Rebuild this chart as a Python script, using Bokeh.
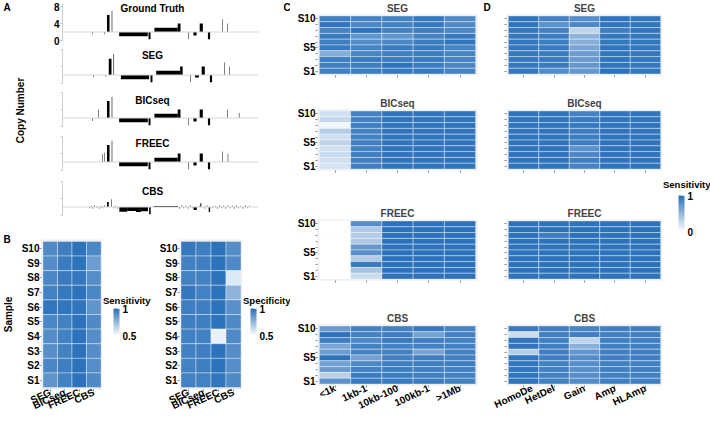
import math
from bokeh.plotting import figure
from bokeh.layouts import row, column
from bokeh.models import (ColumnDataSource, LinearColorMapper, ColorBar, Label,
                          Range1d, FixedTicker, Span)
from bokeh.embed import file_html
from bokeh.resources import INLINE

FONT = "Liberation Sans"

# ---------------- data ----------------
samples_top_down = ["S10", "S9", "S8", "S7", "S6", "S5", "S4", "S3", "S2", "S1"]
methods = ["SEG", "BICseq", "FREEC", "CBS"]
size_bins = ["<1k", "1kb-1", "10kb-100", "100kb-1", ">1Mb"]
cnv_types = ["HomoDe", "HetDel", "Gain", "Amp", "HLAmp"]
cn_ticks = [0, 4, 8]

# Panel A: segments (genome position 0-100, copy number)
gt_start = [15.2, 21.4, 22.7, 25.1, 28.9, 43.9, 46.9, 58.8, 64.3, 66.8, 70.0, 74.2, 81.5, 84.0]
gt_end   = [15.45, 21.65, 24.0, 25.4, 43.5, 44.9, 58.8, 60.2, 64.55, 68.4, 71.6, 75.3, 81.75, 84.25]
gt_cn    = [1.5, 1.5, 6.0, 7.0, 1.0, 0.3, 3.0, 4.0, 0.3, 1.2, 4.0, 0.3, 5.0, 4.0]

seg_start = [15.8, 22.0, 23.6, 26.0, 29.8, 44.9, 47.8, 60.0, 65.3, 67.6, 71.0, 75.2, 82.5, 85.2]
seg_end   = [16.05, 22.25, 25.0, 26.3, 44.2, 45.9, 60.0, 61.3, 65.55, 69.6, 72.6, 76.3, 82.75, 85.45]
seg_cn    = [1.5, 1.6, 5.8, 7.0, 1.0, 0.3, 3.0, 4.0, 0.3, 1.4, 4.0, 0.3, 5.0, 4.0]

bic_start = [15.2, 18.3, 22.7, 25.1, 28.9, 43.9, 46.9, 58.8, 64.3, 66.8, 70.0, 74.2, 84.0, 90.0]
bic_end   = [15.45, 18.55, 24.0, 25.4, 43.5, 44.9, 58.8, 60.2, 64.55, 68.4, 71.6, 75.3, 84.25, 90.25]
bic_cn    = [1.3, 4.0, 6.0, 7.0, 1.0, 0.3, 3.0, 4.0, 0.3, 1.2, 4.0, 0.3, 4.0, 3.2]

freec_start = [20.4, 21.2, 22.7, 25.1, 28.9, 43.9, 46.9, 58.8, 64.3, 66.8, 70.0, 74.2, 81.5, 84.3]
freec_end   = [20.65, 21.45, 24.0, 25.4, 43.5, 44.9, 58.8, 60.2, 64.55, 68.4, 71.6, 75.3, 81.75, 84.55]
freec_cn    = [3.8, 4.2, 6.0, 7.0, 1.0, 0.3, 3.0, 4.0, 0.3, 1.2, 4.0, 0.3, 4.5, 4.0]

cbs_start = [13.8, 14.6, 15.4, 16.3, 17.1, 17.9, 18.8, 19.6, 20.5, 21.3, 22.7, 24.9, 26.2, 27.0, 27.9,
             29.0, 33.0, 37.5, 40.0, 44.2, 46.5,
             59.6, 60.7, 61.8, 62.9, 64.0, 65.1, 66.2, 66.9, 69.5, 70.3, 72.5, 73.6, 74.6, 76.6, 77.7,
             78.8, 79.9, 81.0, 82.1, 83.2, 84.3, 85.4, 86.5, 87.6, 88.7, 89.8, 90.9, 92.0, 93.1, 94.2, 95.3]
cbs_end   = [14.05, 14.85, 15.65, 16.55, 17.35, 18.15, 19.05, 19.85, 20.75, 21.55, 23.6, 25.15, 26.45, 27.25, 28.15,
             33.0, 37.5, 40.0, 43.6, 45.0, 59.0,
             59.85, 60.95, 62.05, 63.15, 64.25, 65.35, 66.45, 68.5, 69.75, 70.8, 72.75, 73.85, 75.3, 76.85, 77.95,
             79.05, 80.15, 81.25, 82.35, 83.45, 84.55, 85.65, 86.75, 87.85, 88.95, 90.05, 91.15, 92.25, 93.35, 94.45, 95.55]
cbs_cn    = [1.7, 2.3, 1.6, 2.4, 1.8, 2.2, 1.6, 2.3, 1.7, 2.4, 3.2, 3.8, 1.7, 2.3, 1.6,
             0.9, 1.05, 0.85, 1.0, 0.3, 2.25,
             1.6, 2.4, 1.7, 2.3, 1.6, 2.4, 1.7, 1.3, 2.3, 2.9, 1.6, 2.4, 0.8, 1.7, 2.3,
             1.6, 2.4, 1.7, 2.3, 1.6, 2.4, 1.7, 2.3, 1.6, 2.4, 1.7, 2.3, 1.6, 2.4, 1.7, 2.3]

# Panel B (rows S10 -> S1; columns SEG, BICseq, FREEC, CBS)
b_sensitivity = [
    [0.91, 0.95, 0.99, 0.92],
    [0.90, 0.96, 0.99, 0.84],
    [0.92, 0.96, 0.97, 0.90],
    [0.94, 0.97, 0.99, 0.92],
    [0.98, 0.98, 0.98, 0.87],
    [0.92, 0.94, 0.99, 0.91],
    [0.90, 0.94, 0.99, 0.90],
    [0.89, 0.94, 0.99, 0.90],
    [0.92, 0.95, 0.99, 0.90],
    [0.87, 0.94, 0.99, 0.91],
]
b_specificity = [
    [0.97, 0.95, 0.99, 0.90],
    [0.94, 0.95, 0.99, 0.91],
    [0.94, 0.94, 0.99, 0.58],
    [0.97, 0.94, 0.99, 0.76],
    [0.95, 0.95, 0.99, 0.89],
    [0.95, 0.95, 0.99, 0.91],
    [0.94, 0.94, 0.55, 0.91],
    [0.94, 0.95, 0.99, 0.90],
    [0.94, 0.95, 0.99, 0.90],
    [0.94, 0.94, 0.98, 0.91],
]

# Panel C: sensitivity by event size (rows S10 -> S1)
c_seg = [
    [0.90, 0.87, 0.88, 0.94, 0.82],
    [0.96, 0.84, 0.88, 0.93, 0.82],
    [0.87, 0.98, 0.88, 0.90, 0.84],
    [0.92, 0.74, 0.74, 0.87, 0.93],
    [0.90, 0.80, 0.84, 0.91, 0.96],
    [0.93, 0.87, 0.92, 0.93, 0.86],
    [0.58, 0.86, 0.90, 0.91, 0.86],
    [0.90, 0.93, 0.91, 0.93, 0.87],
    [0.90, 0.91, 0.98, 0.91, 0.84],
    [0.89, 0.91, 0.93, 0.93, 0.86],
]
c_bicseq = [
    [0.22, 0.88, 0.97, 0.97, 0.97],
    [0.28, 0.88, 0.97, 0.97, 0.97],
    [0.06, 0.90, 0.97, 0.97, 0.97],
    [0.35, 0.88, 0.97, 0.97, 0.97],
    [0.22, 0.88, 0.97, 0.97, 0.97],
    [0.30, 0.90, 0.97, 0.97, 0.97],
    [0.22, 0.88, 0.97, 0.97, 0.97],
    [0.25, 0.90, 0.97, 0.97, 0.97],
    [0.22, 0.90, 0.97, 0.97, 0.97],
    [0.20, 0.90, 0.97, 0.97, 0.97],
]
c_freec = [
    [0.0, 0.80, 0.99, 0.99, 0.99],
    [0.0, 0.38, 0.99, 0.99, 0.99],
    [0.0, 0.35, 0.99, 0.99, 0.99],
    [0.0, 0.38, 0.99, 0.99, 0.99],
    [0.0, 0.72, 0.99, 0.99, 0.99],
    [0.0, 0.78, 0.99, 0.99, 0.99],
    [0.0, 0.35, 0.99, 0.99, 0.99],
    [0.0, 0.92, 0.99, 0.99, 0.99],
    [0.0, 0.42, 0.99, 0.99, 0.99],
    [0.0, 0.25, 0.99, 0.99, 0.99],
]
c_cbs = [
    [0.70, 0.88, 0.88, 0.94, 0.86],
    [0.98, 0.88, 0.90, 0.66, 0.88],
    [0.90, 0.83, 0.93, 0.90, 0.88],
    [0.63, 0.88, 0.88, 0.88, 0.88],
    [0.68, 0.86, 0.88, 0.63, 0.88],
    [0.98, 0.66, 0.88, 0.90, 0.88],
    [0.66, 0.83, 0.90, 0.90, 0.90],
    [0.70, 0.88, 0.91, 0.90, 0.88],
    [0.33, 0.91, 0.91, 0.90, 0.88],
    [0.76, 0.93, 0.93, 0.91, 0.88],
]

# Panel D: sensitivity by event type (rows S10 -> S1)
d_seg = [
    [0.96, 0.88, 0.80, 0.97, 0.95],
    [0.96, 0.76, 0.83, 0.96, 0.95],
    [0.95, 0.88, 0.30, 0.90, 0.96],
    [0.94, 0.91, 0.52, 0.95, 0.95],
    [0.94, 0.91, 0.56, 0.95, 0.95],
    [0.94, 0.92, 0.63, 0.96, 0.95],
    [0.94, 0.92, 0.68, 0.96, 0.95],
    [0.94, 0.92, 0.70, 0.97, 0.95],
    [0.94, 0.92, 0.72, 0.97, 0.95],
    [0.94, 0.80, 0.72, 0.98, 0.95],
]
d_bicseq = [
    [0.97, 0.97, 0.88, 0.97, 0.97],
    [0.97, 0.97, 0.92, 0.97, 0.97],
    [0.97, 0.97, 0.93, 0.97, 0.97],
    [0.97, 0.97, 0.91, 0.97, 0.97],
    [0.97, 0.97, 0.91, 0.97, 0.97],
    [0.97, 0.97, 0.90, 0.97, 0.97],
    [0.97, 0.97, 0.76, 0.97, 0.97],
    [0.97, 0.97, 0.84, 0.97, 0.97],
    [0.97, 0.97, 0.90, 0.97, 0.97],
    [0.97, 0.97, 0.86, 0.97, 0.97],
]
d_freec = [
    [0.98, 0.98, 0.98, 0.98, 0.98],
    [0.98, 0.98, 0.98, 0.98, 0.98],
    [0.98, 0.91, 0.98, 0.98, 0.98],
    [0.98, 0.98, 0.98, 0.98, 0.98],
    [0.98, 0.98, 0.98, 0.98, 0.98],
    [0.98, 0.98, 0.98, 0.98, 0.98],
    [0.98, 0.98, 0.98, 0.98, 0.98],
    [0.98, 0.98, 0.98, 0.98, 0.98],
    [0.98, 0.98, 0.98, 0.98, 0.98],
    [0.98, 0.98, 0.98, 0.98, 0.98],
]
d_cbs = [
    [0.92, 0.90, 0.86, 0.89, 0.89],
    [0.24, 0.90, 0.90, 0.89, 0.89],
    [0.97, 0.89, 0.30, 0.89, 0.89],
    [0.97, 0.89, 0.55, 0.89, 0.89],
    [0.35, 0.89, 0.73, 0.89, 0.89],
    [0.96, 0.89, 0.80, 0.89, 0.89],
    [0.96, 0.88, 0.80, 0.89, 0.89],
    [0.96, 0.88, 0.78, 0.89, 0.89],
    [0.96, 0.88, 0.80, 0.89, 0.89],
    [0.96, 0.88, 0.80, 0.89, 0.89],
]

# ---------------- styling helpers ----------------
HIGH = (41, 112, 186)
palette = ["#%02x%02x%02x" % tuple(int(round(255 + (h - 255) * i / 255)) for h in HIGH)
           for i in range(256)]
mapper_b = LinearColorMapper(palette=palette, low=0.5, high=1.0)
mapper_cd = LinearColorMapper(palette=palette, low=0.0, high=1.0)
TICK_COLOR = "#8a8a8a"
ANGLE = 0.44


def txt(text, x, y, size="10px", align="left", baseline="middle", angle=0.0):
    return Label(x=x, y=y, x_units="screen", y_units="screen", text=text,
                 text_font=FONT, text_font_style="bold", text_font_size=size,
                 text_align=align, text_baseline=baseline, angle=angle, text_color="black")


def base_fig(w, h, xr, yr, bl, br, bt, bb):
    p = figure(width=w, height=h, x_range=xr, y_range=yr, output_backend="svg",
               toolbar_location=None, tools="", min_border_left=bl, min_border_right=br,
               min_border_top=bt, min_border_bottom=bb)
    p.grid.visible = False
    p.outline_line_color = None
    p.background_fill_color = "white"
    p.border_fill_color = "white"
    return p


def text_fig(w, h):
    # a borderless strip: its frame is the whole canvas, so its texts are not clipped
    p = base_fig(w, h, Range1d(0, 1), Range1d(0, 1), 0, 0, 0, 0)
    p.xaxis.visible = False
    p.yaxis.visible = False
    return p


def style_axis(ax):
    ax.axis_line_color = None
    ax.major_tick_line_color = TICK_COLOR
    ax.minor_tick_line_color = TICK_COLOR
    ax.major_tick_out = 2
    ax.major_tick_in = 0
    ax.minor_tick_out = 2
    ax.minor_tick_in = 0
    ax.major_label_text_font = FONT
    ax.major_label_text_font_style = "bold"
    ax.major_label_text_font_size = "10px"
    ax.major_label_text_color = "black"
    ax.major_label_standoff = 0


def heatmap(xf, mat, mapper, w, h, bl, br, bt, bb, title=None,
            xlabels=True, ylabels="all", xpad=0.06, ypad=0.25):
    nx = len(xf)
    p = base_fig(w, h, Range1d(0.5 - xpad, nx + 0.5 + xpad),
                 Range1d(0.5 - ypad, 10.5 + ypad), bl, br, bt, bb)
    p.background_fill_color = "#ededed"
    xs, ys, vs = [], [], []
    for i, r in enumerate(mat):
        snum = int(samples_top_down[i][1:])
        for j, v in enumerate(r):
            xs.append(j + 1)
            ys.append(snum)
            vs.append(v)
    src = ColumnDataSource(dict(x=xs, y=ys, v=vs))
    p.rect(x="x", y="y", width=1, height=1, source=src,
           fill_color={"field": "v", "transform": mapper},
           line_color="white", line_width=0.7, line_alpha=0.55)
    xax, yax = p.xaxis[0], p.yaxis[0]
    style_axis(xax)
    style_axis(yax)
    xpos = list(range(1, nx + 1))
    if xlabels:
        xax.ticker = FixedTicker(ticks=xpos)
        xax.major_label_overrides = {k: name for k, name in zip(xpos, xf)}
        xax.major_label_orientation = ANGLE
    else:
        xax.ticker = FixedTicker(ticks=[], minor_ticks=xpos)
    snums = [int(s[1:]) for s in samples_top_down]
    if ylabels == "all":
        yax.ticker = FixedTicker(ticks=snums)
        yax.major_label_overrides = {n: s for n, s in zip(snums, samples_top_down)}
    elif ylabels == "some":
        shown = [10, 5, 1]
        yax.ticker = FixedTicker(ticks=shown, minor_ticks=[n for n in snums if n not in shown])
        yax.major_label_overrides = {n: "S%d" % n for n in shown}
    else:
        yax.ticker = FixedTicker(ticks=[], minor_ticks=snums)
    if title:
        p.title.text = title
        p.title.align = "center"
        p.title.text_font = FONT
        p.title.text_font_style = "bold"
        p.title.text_font_size = "10px"
        p.title.standoff = 1
    return p


def colorbar(mapper, ticks, labels, x, y, height):
    return ColorBar(color_mapper=mapper, ticker=FixedTicker(ticks=ticks),
                    major_label_overrides=labels, orientation="vertical",
                    width=6, height=height, location=(x, y), padding=0,
                    label_standoff=3, background_fill_alpha=0, border_line_color=None,
                    bar_line_color=None, major_tick_line_color="white",
                    major_tick_in=2, major_tick_out=0, minor_tick_line_color=None,
                    major_label_text_font=FONT, major_label_text_font_style="bold",
                    major_label_text_font_size="10px", major_label_text_color="black")


# ---------------- panel A ----------------
label_fig = text_fig(28, 222)
label_fig.add_layout(txt("A", 3, 221, baseline="top"))
label_fig.add_layout(txt("Copy Number", 20, 112, align="center", angle=math.pi / 2))

tracks = [
    # name, start, end, cn, fig height, top border, bottom border, y max, title y
    ("Ground Truth", gt_start, gt_end, gt_cn, 45, 3, 5, 8.706, 32.0),
    ("SEG", seg_start, seg_end, seg_cn, 43, 4, 5, 8.0, 28.0),
    ("BICseq", bic_start, bic_end, bic_cn, 43, 4, 5, 8.0, 26.5),
    ("FREEC", freec_start, freec_end, freec_cn, 44, 5, 5, 8.0, 27.0),
    ("CBS", cbs_start, cbs_end, cbs_cn, 47, 6, 7, 8.0, 24.0),
]
track_figs = []
for k, (name, st, en, cn, h, bt, bb, ymax, ty) in enumerate(tracks):
    p = base_fig(254, h, Range1d(0, 100), Range1d(0, ymax), 34, 24, bt, bb)
    p.xaxis.visible = False
    p.add_layout(Span(location=2, dimension="width", line_color="#d6d6d6", line_width=1))
    p.quad(left=st, right=en, bottom=2, top=cn, fill_color="black", line_color=None)
    ax = p.yaxis[0]
    style_axis(ax)
    ax.major_label_standoff = 1
    ax.axis_line_color = "#cfcfcf"
    ax.major_tick_line_color = "#bdbdbd"
    ax.minor_tick_line_color = "#cfcfcf"
    if k == 0:
        ax.ticker = FixedTicker(ticks=cn_ticks)
    else:
        ax.ticker = FixedTicker(ticks=[], minor_ticks=cn_ticks)
    p.add_layout(txt(name, 90, ty, align="center"))
    track_figs.append(p)

strip_c = text_fig(8, 222)
strip_c.add_layout(txt("C", 1, 221, baseline="top"))

panel_a = row(label_fig, column(*track_figs), strip_c)

# ---------------- panel B ----------------
strip_b = text_fig(14, 199)
strip_b.add_layout(txt("B", 3, 188, baseline="top"))
strip_b.add_layout(txt("Sample", 8, 107, align="center", angle=math.pi / 2))

b_left = heatmap(methods, b_sensitivity, mapper_b, 88, 199, 27, 0, 17, 32,
                 xpad=0.1, ypad=0.13)

cb_b1 = text_fig(50, 199)
cb_b1.add_layout(colorbar(mapper_b, [0.5, 1.0], {0.5: "0.5", 1: "1"}, 11, 86, 27))
cb_b1.add_layout(txt("Sensitivity", 0.5, 121, size="9.5px"))

b_right = heatmap(methods, b_specificity, mapper_b, 90, 199, 27, 0, 17, 32,
                  xpad=0.1, ypad=0.13)

cb_b2 = text_fig(48, 199)
cb_b2.add_layout(colorbar(mapper_b, [0.5, 1.0], {0.5: "0.5", 1: "1"}, 8, 86, 27))
cb_b2.add_layout(txt("Specificity", 0.5, 121, size="9.5px"))

# each child wrapped in its own column so the row does not align their frames
panel_b = row(column(strip_b), column(b_left), column(cb_b1), column(b_right), column(cb_b2))

col1 = column(panel_a, panel_b)

# ---------------- panel C ----------------
c1 = heatmap(size_bins, c_seg, mapper_cd, 190, 95, 27, 3, 14, 20, "SEG", False, "some")
c2 = heatmap(size_bins, c_bicseq, mapper_cd, 190, 100, 27, 3, 14, 25, "BICseq", False, "some")
c3 = heatmap(size_bins, c_freec, mapper_cd, 190, 110, 27, 3, 24, 25, "FREEC", False, "some")
c4 = heatmap(size_bins, c_cbs, mapper_cd, 190, 116, 27, 3, 19, 36, "CBS", True, "some")
col2 = column(c1, c2, c3, c4)

# ---------------- panel D ----------------
strip_d = text_fig(12, 421)
strip_d.add_layout(txt("D", 3, 420, baseline="top"))

d1 = heatmap(cnv_types, d_seg, mapper_cd, 170, 95, 14, 0, 14, 20, "SEG", False, "none")
d2 = heatmap(cnv_types, d_bicseq, mapper_cd, 170, 83, 14, 0, 14, 8, "BICseq", False, "none")
d3 = heatmap(cnv_types, d_freec, mapper_cd, 170, 127, 14, 0, 41, 25, "FREEC", False, "none")
d4 = heatmap(cnv_types, d_cbs, mapper_cd, 170, 116, 14, 0, 19, 36, "CBS", True, "none")

cb_d = text_fig(48, 421)
cb_d.add_layout(colorbar(mapper_cd, [0.0, 1.0], {0: "0", 1: "1"}, 16, 190, 36))
cb_d.add_layout(txt("Sensitivity", 0.5, 237, size="9.5px"))

col3 = row(column(strip_d), column(d1, d2, d3, d4), column(cb_d))

layout = row(col1, col2, col3)

open("out.html", "w").write(file_html(layout, INLINE))
